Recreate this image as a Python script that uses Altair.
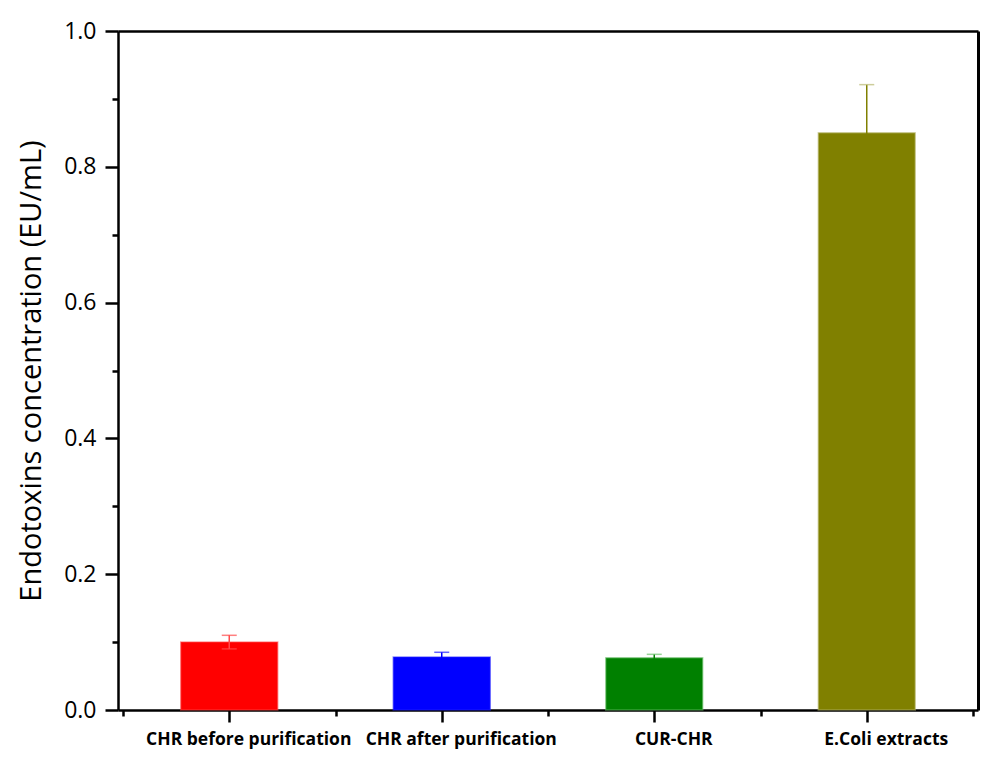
import altair as alt
import pandas as pd

categories = ["CHR before purification", "CHR after purification", "CUR-CHR", "E.Coli extracts"]
positions = [1, 2, 3, 4]
values = [0.100, 0.078, 0.077, 0.850]
errors = [0.010, 0.007, 0.005, 0.071]
bar_colors = ["#ff0000", "#0000ff", "#008000", "#808000"]
whisker_colors = ["#ff4a4a", "#0000ff", "#008000", "#808000"]
cap_colors = ["#ff4a4a", "#2020ff", "#6cc06c", "#b8b870"]

major_y = [0.0, 0.2, 0.4, 0.6, 0.8, 1.0]
minor_y = [0.1, 0.3, 0.5, 0.7, 0.9]
minor_x = [0.5, 1.5, 2.5, 3.5, 4.5]

df = pd.DataFrame({
    "cat": categories,
    "pos": positions,
    "value": values,
    "err": errors,
    "bar_color": bar_colors,
    "wcolor": whisker_colors,
    "ccolor": cap_colors,
})
df["lo"] = df["value"] - df["err"]
df["hi"] = df["value"] + df["err"]

label_list = "[" + ",".join("'" + c + "'" for c in categories) + "]"

xscale = alt.Scale(domain=[0.5, 4.5], nice=False, zero=False)
yscale = alt.Scale(domain=[0, 1], nice=False)

FONT = "Open Sans"

x_main = alt.X("pos:Q", scale=xscale, title=None,
               axis=alt.Axis(orient="bottom", values=positions,
                             labelExpr=label_list + "[datum.value-1]",
                             tickSize=12, tickWidth=2.5, tickColor="black",
                             domainWidth=2.5, domainColor="black",
                             labelFont=FONT, labelFontWeight="bold", labelFontSize=17.5,
                             labelColor="black", labelPadding=8, labelOffset=19, grid=False,
                             labelLimit=500, labelFlush=False, labelOverlap=False))
y_main = alt.Y("value:Q", scale=yscale, title="Endotoxins concentration (EU/mL)",
               axis=alt.Axis(orient="left", values=major_y, format=".1f",
                             tickSize=13, tickWidth=2.5, tickColor="black",
                             domainWidth=2.5, domainColor="black",
                             labelFont=FONT, labelFontSize=23, labelColor="black",
                             labelPadding=9, grid=False,
                             titleFont=FONT, titleFontSize=29, titleFontWeight="normal",
                             titleColor="black", titlePadding=17,
                             labelFlush=False))

bars = alt.Chart(df).mark_bar(size=97, strokeWidth=1.5, strokeOpacity=0.5).encode(
    x=x_main,
    y=y_main,
    color=alt.Color("bar_color:N", scale=None),
    stroke=alt.Stroke("ccolor:N", scale=None),
)

whisk = alt.Chart(df).mark_rule(strokeWidth=1.5).encode(
    x=alt.X("pos:Q", scale=xscale),
    y=alt.Y("lo:Q", scale=yscale),
    y2="hi:Q",
    color=alt.Color("wcolor:N", scale=None),
)

caps_hi = alt.Chart(df).mark_tick(orient="horizontal", size=15, thickness=1.5).encode(
    x=alt.X("pos:Q", scale=xscale),
    y=alt.Y("hi:Q", scale=yscale),
    color=alt.Color("ccolor:N", scale=None),
)
caps_lo = alt.Chart(df[df["pos"] == 1]).mark_tick(orient="horizontal", size=15, thickness=1.5).encode(
    x=alt.X("pos:Q", scale=xscale),
    y=alt.Y("lo:Q", scale=yscale),
    color=alt.Color("ccolor:N", scale=None),
)

main = alt.layer(bars, whisk, caps_hi, caps_lo)

minor = alt.Chart(df).mark_point(opacity=0).encode(
    x=alt.X("pos:Q", scale=xscale, title=None,
            axis=alt.Axis(orient="bottom", values=minor_x, labels=False, tickSize=6,
                          tickWidth=2.5, tickColor="black", domain=False, grid=False)),
    y=alt.Y("value:Q", scale=yscale, title=None,
            axis=alt.Axis(orient="left", values=minor_y, labels=False, tickSize=6,
                          tickWidth=2.5, tickColor="black", domain=False, grid=False)),
)

frame = alt.Chart(df).mark_point(opacity=0).encode(
    x=alt.X("pos:Q", scale=xscale, title=None,
            axis=alt.Axis(orient="top", labels=False, ticks=False, grid=False,
                          domainWidth=2.5, domainColor="black")),
    y=alt.Y("value:Q", scale=yscale, title=None,
            axis=alt.Axis(orient="right", labels=False, ticks=False, grid=False,
                          domainWidth=3, domainColor="black")),
)

chart = alt.layer(main, minor, frame).resolve_axis(x="independent", y="independent").properties(
    width=860, height=679,
    autosize=alt.AutoSizeParams(type="none"),
    padding={"left": 110, "top": 23, "right": 10, "bottom": 45},
).configure_view(stroke=None).configure(background="white")

chart.save("out.html", embed_options={"renderer": "svg", "actions": False})
